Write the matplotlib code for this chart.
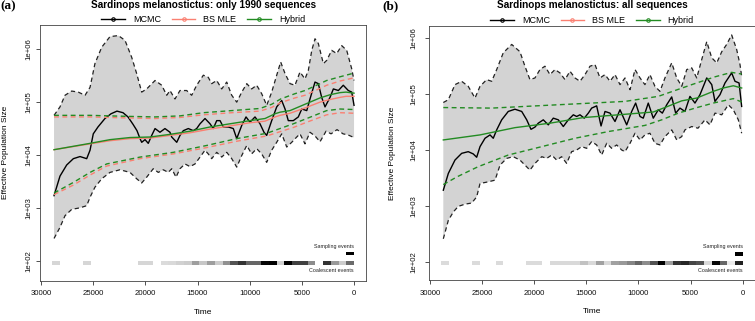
import matplotlib.pyplot as plt
from matplotlib.lines import Line2D
import numpy as np

plt.rcParams['font.family'] = ['Liberation Sans', 'DejaVu Sans']

# times are years before present, sizes are log10(Ne)

# ---------- panel (a): only 1990 sequences ----------
mcmc_t_a = [28750, 28180, 27540, 26900, 26260, 25620, 25300, 24990, 24540, 23870,
            23290, 22720, 22140, 21660, 21180, 20800, 20510, 20350, 20030, 19720,
            19390, 19070, 18600, 18120, 17640, 17470, 16990, 16680, 16360, 15880,
            15400, 15080, 14760, 14280, 13800, 13490, 13160, 12840, 12530, 12050,
            11570, 11240, 10760, 10350, 9970, 9490, 9010, 8630, 8370, 7890,
            7410, 6930, 6610, 6300, 5820, 5340, 5010, 4530, 4220, 3740,
            3420, 3100, 2780, 2300, 1980, 1500, 1030, 550, 220, 0]
mcmc_med_a = [3.23, 3.60, 3.81, 3.93, 3.97, 3.93, 4.09, 4.40, 4.53, 4.69,
              4.78, 4.83, 4.80, 4.72, 4.58, 4.46, 4.31, 4.24, 4.29, 4.22,
              4.37, 4.50, 4.43, 4.50, 4.43, 4.34, 4.24, 4.37, 4.46, 4.50,
              4.46, 4.50, 4.59, 4.69, 4.59, 4.50, 4.65, 4.65, 4.53, 4.53,
              4.50, 4.31, 4.56, 4.72, 4.62, 4.72, 4.59, 4.43, 4.37, 4.65,
              4.91, 5.03, 4.87, 4.65, 4.65, 4.72, 4.87, 4.84, 5.06, 5.38,
              5.35, 5.09, 4.91, 5.09, 5.25, 5.22, 5.32, 5.22, 5.19, 4.94]

mcmc_up_t_a = [28750, 28180, 27700, 27060, 26430, 25780, 25300, 24830, 24180, 23390,
               22590, 21950, 21310, 20830, 20350, 19870, 19070, 18430, 17950, 17640,
               17160, 16680, 16040, 15560, 15080, 14440, 13970, 13640, 13160, 12680,
               12200, 11720, 11240, 10760, 10280, 9810, 9330, 8850, 8370, 7890,
               7410, 7030, 6610, 6130, 5660, 5180, 4700, 4380, 4050, 3740,
               3420, 2940, 2620, 2140, 1660, 1180, 700, 220, 0]
mcmc_up_a = [4.75, 4.91, 5.13, 5.21, 5.19, 5.13, 5.28, 5.73, 6.04, 6.24,
             6.26, 6.17, 5.85, 5.54, 5.19, 5.25, 5.41, 5.32, 5.13, 5.22,
             5.06, 5.22, 5.22, 5.13, 5.32, 5.51, 5.47, 5.35, 5.41, 5.25,
             5.38, 5.13, 5.00, 5.19, 5.35, 5.25, 5.32, 5.16, 4.94, 5.19,
             5.51, 5.76, 5.54, 5.35, 5.32, 5.57, 5.44, 5.60, 5.98, 6.20,
             6.11, 5.73, 5.79, 5.98, 5.92, 6.07, 5.98, 5.63, 5.41]

mcmc_lo_t_a = [28750, 28180, 27700, 27060, 26260, 25620, 25300, 24830, 24180, 23390,
               22430, 21470, 20830, 20350, 19870, 19240, 18760, 18280, 17800, 17470,
               17060, 16680, 16200, 15720, 15240, 14760, 14280, 13970, 13640, 13160,
               12680, 12200, 11720, 11240, 10760, 10280, 9810, 9330, 8850, 8370,
               7890, 7410, 6930, 6450, 5970, 5490, 5180, 4700, 4220, 3740,
               3260, 2680, 2200, 1630, 1050, 580, 0]
mcmc_lo_a = [2.42, 2.63, 2.85, 2.97, 3.00, 3.04, 3.20, 3.39, 3.55, 3.67,
             3.72, 3.67, 3.55, 3.47, 3.58, 3.74, 3.67, 3.72, 3.67, 3.74,
             3.58, 3.74, 3.83, 3.78, 3.83, 3.96, 4.09, 4.02, 3.93, 4.05,
             3.96, 4.05, 3.93, 3.77, 3.99, 4.18, 4.02, 4.12, 4.02, 3.86,
             4.09, 4.24, 4.40, 4.15, 4.24, 4.34, 4.40, 4.21, 4.43, 4.36,
             4.25, 4.45, 4.40, 4.48, 4.40, 4.38, 4.33]

mle_t_a = [28750, 25300, 23390, 21470, 19550, 17640, 15720, 13800, 11890, 9970,
           8530, 7570, 7090, 6130, 4700, 3260, 2300, 1340, 770, 0]
hyb_med_a = [4.10, 4.22, 4.29, 4.33, 4.34, 4.39, 4.45, 4.53, 4.59, 4.65,
             4.69, 4.78, 4.81, 4.84, 4.96, 5.08, 5.14, 5.18, 5.19, 5.17]
bs_med_a = [4.10, 4.21, 4.27, 4.31, 4.32, 4.37, 4.42, 4.49, 4.55, 4.61,
            4.64, 4.72, 4.75, 4.79, 4.89, 5.00, 5.05, 5.09, 5.11, 5.11]

ci_up_t_a = [28750, 25300, 21470, 19070, 16680, 14440, 11720, 9010, 7890, 7030,
             5660, 4700, 3260, 2620, 1340, 0]
hyb_up_a = [4.75, 4.75, 4.73, 4.72, 4.74, 4.80, 4.84, 4.88, 4.96, 5.06,
            5.16, 5.22, 5.35, 5.41, 5.48, 5.55]
bs_up_a = [4.72, 4.72, 4.70, 4.69, 4.71, 4.76, 4.80, 4.83, 4.90, 4.99,
           5.08, 5.13, 5.26, 5.32, 5.40, 5.46]

ci_lo_t_a = [28750, 26900, 25300, 23710, 20510, 17320, 14120, 11240, 8370, 5820,
             4530, 2620, 1340, 0]
hyb_lo_a = [3.28, 3.48, 3.67, 3.83, 3.96, 4.05, 4.18, 4.31, 4.41, 4.59,
            4.69, 4.84, 4.87, 4.86]
bs_lo_a = [3.25, 3.43, 3.62, 3.79, 3.93, 4.02, 4.14, 4.26, 4.36, 4.52,
           4.62, 4.76, 4.80, 4.79]

# event heat strips: grey level per bin, bin 0 = most recent (1.0 = no events)
coal_gray_a = [0.42, 0.80, 0.60, 0.20, 1.0, 0.55, 0.25, 0.25, 0.0, 0.82,
               0.0, 0.02, 0.40, 0.40, 0.20, 0.33, 0.57, 0.80, 0.62, 0.78,
               0.62, 0.80, 0.82, 0.85, 0.86, 1.0, 0.84, 0.84, 1.0, 1.0,
               1.0, 1.0, 1.0, 1.0, 0.84, 1.0, 1.0, 1.0, 0.84]
samp_gray_a = [0.0]

# ---------- panel (b): all sequences ----------
mcmc_t_b = [28720, 28240, 27600, 26960, 26330, 25850, 25520, 25200, 24720, 24240,
            23930, 23600, 23120, 22490, 21850, 21200, 20720, 20310, 19930, 19610,
            19130, 18650, 18170, 17690, 17210, 16730, 16250, 15930, 15610, 15200,
            14810, 14490, 14010, 13590, 13210, 12730, 12250, 11770, 11130, 10650,
            10270, 9850, 9540, 9060, 8580, 8100, 7710, 7290, 6810, 6430,
            6020, 5540, 5060, 4580, 4100, 3450, 2970, 2660, 2180, 1700,
            1060, 740, 350, 100]
mcmc_med_b = [3.28, 3.58, 3.82, 3.94, 3.97, 3.93, 3.87, 4.06, 4.21, 4.27,
              4.21, 4.36, 4.54, 4.69, 4.73, 4.69, 4.54, 4.37, 4.41, 4.48,
              4.54, 4.45, 4.57, 4.54, 4.42, 4.54, 4.63, 4.60, 4.63, 4.57,
              4.66, 4.75, 4.79, 4.43, 4.69, 4.66, 4.51, 4.72, 4.45, 4.69,
              4.84, 4.60, 4.57, 4.84, 4.57, 4.72, 4.66, 4.81, 4.95, 4.66,
              4.75, 4.69, 4.96, 4.84, 4.99, 5.29, 5.17, 4.87, 4.99, 5.20,
              5.38, 5.23, 5.20, 4.78]

mcmc_up_t_b = [28720, 28240, 27600, 26960, 26330, 25680, 25200, 24560, 24080, 23600,
               22970, 22160, 21370, 20890, 20410, 19930, 19450, 18970, 18490, 18010,
               17530, 17050, 16570, 16090, 15610, 15130, 14650, 14170, 13690, 13210,
               12730, 12250, 11770, 11290, 10810, 10330, 9850, 9380, 8900, 8420,
               7940, 7460, 6810, 6330, 5850, 5370, 4890, 4410, 3930, 3450,
               2970, 2490, 2010, 1540, 1060, 580, 260, 100]
mcmc_up_b = [4.85, 4.90, 5.17, 5.23, 5.14, 4.93, 5.14, 5.26, 5.23, 5.44,
             5.74, 5.89, 5.76, 5.50, 5.26, 5.29, 5.44, 5.50, 5.35, 5.44,
             5.38, 5.26, 5.41, 5.29, 5.23, 5.35, 5.50, 5.53, 5.29, 5.35,
             5.23, 5.35, 5.17, 5.29, 5.08, 5.44, 5.29, 5.17, 5.35, 5.14,
             5.05, 5.29, 5.56, 5.29, 5.14, 5.44, 5.47, 5.29, 5.62, 5.94,
             5.65, 5.56, 5.76, 5.89, 6.06, 5.80, 5.53, 5.32]

mcmc_lo_t_b = [28720, 28240, 27760, 27290, 26640, 26000, 25520, 25200, 24410, 23760,
               23280, 22640, 22010, 21370, 20890, 20410, 19930, 19280, 18800, 18320,
               17850, 17370, 16890, 16410, 15930, 15450, 14970, 14490, 14010, 13530,
               13050, 12570, 12090, 11610, 11290, 10810, 10330, 9850, 9380, 8900,
               8420, 7940, 7460, 6810, 6330, 5850, 5540, 4890, 4290, 3620,
               3140, 2660, 2010, 1380, 900, 420, 100]
mcmc_lo_b = [2.41, 2.74, 2.89, 2.99, 3.03, 3.05, 3.16, 3.40, 3.43, 3.46,
             3.73, 3.85, 3.88, 3.82, 3.73, 3.64, 3.76, 3.88, 3.85, 3.91,
             3.82, 3.88, 3.76, 3.97, 4.00, 4.06, 4.03, 4.15, 4.09, 3.91,
             4.12, 4.03, 4.09, 4.00, 3.97, 4.12, 4.30, 4.18, 4.27, 4.30,
             4.12, 4.09, 4.24, 4.36, 4.18, 4.24, 4.36, 4.42, 4.39, 4.54,
             4.45, 4.66, 4.63, 4.81, 4.72, 4.54, 4.30]

hyb_med_t_b = [28720, 25200, 21850, 18490, 15300, 11930, 8580, 7610, 5850, 4410,
               2820, 1860, 900, 100]
hyb_med_b = [4.18, 4.27, 4.40, 4.48, 4.58, 4.63, 4.68, 4.75, 4.88, 4.93,
             5.05, 5.11, 5.15, 5.11]
hyb_up_t_b = [28720, 24080, 17690, 11290, 8100, 4890, 2660, 1060, 100]
hyb_up_b = [4.76, 4.75, 4.81, 4.87, 4.96, 5.17, 5.31, 5.39, 5.36]
hyb_lo_t_b = [28720, 27400, 25390, 22490, 19280, 16090, 12890, 9380, 7770, 6170,
              4570, 2820, 900, 100]
hyb_lo_b = [3.38, 3.52, 3.70, 3.91, 4.06, 4.21, 4.33, 4.44, 4.54, 4.66,
            4.75, 4.84, 4.92, 4.86]

coal_gray_b = [0.13, 0.92, 0.40, 0.02, 0.85, 0.32, 0.27, 0.15, 0.20, 0.62,
               0.0, 0.32, 0.55, 0.40, 0.52, 0.60, 0.63, 0.85, 0.63, 0.85,
               0.76, 0.85, 0.85, 0.85, 0.85, 1.0, 0.86, 0.86, 1.0, 1.0,
               1.0, 0.86, 1.0, 1.0, 0.86, 1.0, 1.0, 1.0, 0.86]
samp_gray_b = [0.0]

ytick_vals = [1e2, 1e3, 1e4, 1e5, 1e6]
ytick_labels = ['1e+02', '1e+03', '1e+04', '1e+05', '1e+06']
xtick_vals = [30000, 25000, 20000, 15000, 10000, 5000, 0]

GREEN = '#228B22'
SALMON = '#FA8072'
DASH = (0, (3.5, 2.5))


def draw_band(ax, t_up, up, t_lo, lo):
    xs = np.r_[t_up, t_lo[::-1]]
    ys = 10 ** np.r_[up, lo[::-1]]
    ax.fill(xs, ys, color='#D3D3D3', lw=0, zorder=1)
    ax.plot(t_up, 10 ** np.array(up), color='#222222', ls=DASH, lw=0.9, zorder=2)
    ax.plot(t_lo, 10 ** np.array(lo), color='#222222', ls=DASH, lw=0.9, zorder=2)


def draw_strips(ax, coal, samp, tmax, y_s, y_c):
    edges = np.linspace(0, tmax, len(coal) + 1)
    for i, g in enumerate(coal):
        if g < 1.0:
            ax.axvspan(edges[i + 1], edges[i], ymin=y_c[0], ymax=y_c[1],
                       color=str(g), lw=0, zorder=3)
    for i, g in enumerate(samp):
        ax.axvspan(edges[i + 1], edges[i], ymin=y_s[0], ymax=y_s[1],
                   color=str(g), lw=0, zorder=3)
    tr = ax.get_xaxis_transform()
    ax.text(0, y_s[1] + 0.022, 'Sampling events', transform=tr, ha='right',
            va='center', fontsize=3.9, color='#222222')
    ax.text(0, y_c[0] - 0.022, 'Coalescent events', transform=tr, ha='right',
            va='center', fontsize=3.9, color='#222222')


def style_axes(ax, ylim, ypad, ylab_x):
    ax.set_yscale('log')
    ax.set_xlim(30058, -1150)
    ax.set_ylim(*ylim)
    ax.set_yticks(ytick_vals)
    ax.set_yticklabels(ytick_labels, rotation=90, va='center')
    ax.yaxis.set_minor_locator(plt.NullLocator())
    ax.set_xticks(xtick_vals)
    ax.set_xticklabels([str(v) for v in xtick_vals])
    ax.tick_params(axis='x', labelsize=5.6, length=3, width=0.6, pad=4, colors='#333333',
                   labelcolor='#111111')
    ax.tick_params(axis='y', labelsize=5.6, length=3, width=0.6, pad=ypad, colors='#333333',
                   labelcolor='#111111')
    for s in ax.spines.values():
        s.set_linewidth(0.6)
        s.set_color('#444444')
    ax.set_xlabel('Time', fontsize=6)
    ax.set_ylabel('Effective Population Size', fontsize=6)
    ax.xaxis.set_label_coords(0.5, -0.112)
    ax.yaxis.set_label_coords(ylab_x, 0.5)


def add_legend(ax):
    handles = [Line2D([], [], color=c, marker='o', mfc='none', ms=2.5, mew=0.8, lw=1.0)
               for c in ['black', SALMON, GREEN]]
    ax.legend(handles, ['MCMC', 'BS MLE', 'Hybrid'], ncol=3, loc='lower center',
              bbox_to_anchor=(0.5, 0.995), frameon=False, fontsize=6.5,
              handlelength=2.6, handletextpad=0.9, columnspacing=1.2,
              borderaxespad=0, borderpad=0.2)


fig = plt.figure(figsize=(7.55, 3.21), dpi=100)

# panel (a)
ax1 = fig.add_axes([0.0535, 0.1255, 0.4313, 0.7966])
draw_band(ax1, mcmc_up_t_a, mcmc_up_a, mcmc_lo_t_a, mcmc_lo_a)
ax1.plot(mcmc_t_a, 10 ** np.array(mcmc_med_a), color='black', lw=1.0, zorder=4)
ax1.plot(ci_up_t_a, 10 ** np.array(bs_up_a), color=SALMON, ls=DASH, lw=1.0, zorder=5)
ax1.plot(ci_lo_t_a, 10 ** np.array(bs_lo_a), color=SALMON, ls=DASH, lw=1.0, zorder=5)
ax1.plot(mle_t_a, 10 ** np.array(bs_med_a), color=SALMON, lw=1.0, zorder=5)
ax1.plot(ci_up_t_a, 10 ** np.array(hyb_up_a), color=GREEN, ls=DASH, lw=1.0, zorder=6)
ax1.plot(ci_lo_t_a, 10 ** np.array(hyb_lo_a), color=GREEN, ls=DASH, lw=1.0, zorder=6)
ax1.plot(mle_t_a, 10 ** np.array(hyb_med_a), color=GREEN, lw=1.0, zorder=6)
draw_strips(ax1, coal_gray_a, samp_gray_a, 28900, (0.099, 0.112), (0.061, 0.077))
style_axes(ax1, (10 ** 1.62, 10 ** 6.46), 2.5, -0.095)
add_legend(ax1)
fig.text(0.269, 0.983, 'Sardinops melanostictus: only 1990 sequences', ha='center',
         va='center', fontsize=7.2, fontweight='bold')
fig.text(0.001, 0.979, '(a)', ha='left', va='center', fontsize=9.5, fontweight='bold',
         family=['Liberation Serif', 'DejaVu Serif'])

# panel (b)
ax2 = fig.add_axes([0.5687, 0.1277, 0.4309, 0.7913])
draw_band(ax2, mcmc_up_t_b, mcmc_up_b, mcmc_lo_t_b, mcmc_lo_b)
ax2.plot(mcmc_t_b, 10 ** np.array(mcmc_med_b), color='black', lw=1.0, zorder=4)
ax2.plot(hyb_up_t_b, 10 ** np.array(hyb_up_b), color=GREEN, ls=DASH, lw=1.0, zorder=6)
ax2.plot(hyb_lo_t_b, 10 ** np.array(hyb_lo_b), color=GREEN, ls=DASH, lw=1.0, zorder=6)
ax2.plot(hyb_med_t_b, 10 ** np.array(hyb_med_b), color=GREEN, lw=1.0, zorder=6)
draw_strips(ax2, coal_gray_b, samp_gray_b, 28900, (0.096, 0.111), (0.058, 0.074))
style_axes(ax2, (10 ** 1.672, 10 ** 6.22), 5.5, -0.104)
add_legend(ax2)
fig.text(0.784, 0.983, 'Sardinops melanostictus: all sequences', ha='center',
         va='center', fontsize=7.2, fontweight='bold')
fig.text(0.506, 0.979, '(b)', ha='left', va='center', fontsize=9.5, fontweight='bold',
         family=['Liberation Serif', 'DejaVu Serif'])

fig.savefig('out.png', dpi=100)
